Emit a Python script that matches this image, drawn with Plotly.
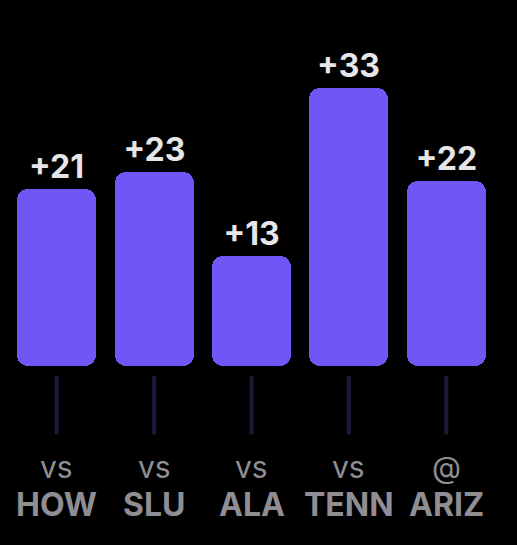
import plotly.graph_objects as go

venues = ["vs", "vs", "vs", "vs", "@"]
teams = ["HOW", "SLU", "ALA", "TENN", "ARIZ"]
margins = [21, 23, 13, 33, 22]

x = list(range(len(teams)))
labels = [f"+{m}" for m in margins]
# two overlapping pieces per bar so that both ends get rounded corners
upper_base = [m * 0.3 for m in margins]
upper_len = [m * 0.7 for m in margins]
lower_base = [m * 0.7 for m in margins]
lower_len = [-m * 0.7 for m in margins]

bar_color = "#7256f5"
fig = go.Figure()
fig.add_trace(go.Bar(
    x=x, y=lower_len, base=lower_base, width=0.81,
    marker=dict(color=bar_color, cornerradius=11, line=dict(width=0)),
    hoverinfo="skip",
))
fig.add_trace(go.Bar(
    x=x, y=upper_len, base=upper_base, width=0.81,
    marker=dict(color=bar_color, cornerradius=11, line=dict(width=0)),
    text=labels, textposition="outside", cliponaxis=False,
    textfont=dict(family="Inter", size=32, color="#e6e6e8", weight="bold"),
    hoverinfo="skip",
))

for i in x:
    fig.add_shape(type="line", xref="x", yref="y", x0=i, x1=i, y0=-1.2, y1=-8.1,
                  line=dict(color="#1e1a3a", width=4))
    fig.add_annotation(x=i, y=1 - 467 / 545, xref="x", yref="paper", text=venues[i],
                       showarrow=False, yanchor="middle",
                       font=dict(family="Inter", size=30, color="#8e8e93"))
    fig.add_annotation(x=i, y=1 - 504 / 545, xref="x", yref="paper", text=teams[i],
                       showarrow=False, yanchor="middle",
                       font=dict(family="Inter", size=32, color="#8e8e93", weight="bold"))

fig.update_layout(
    width=517, height=545,
    margin=dict(l=8, r=22, t=0, b=0),
    paper_bgcolor="#000000", plot_bgcolor="#000000",
    showlegend=False, barmode="overlay",
    xaxis=dict(range=[-0.5, 4.5], visible=False, fixedrange=True),
    yaxis=dict(range=[-21.23, 43.42], visible=False, fixedrange=True),
    bargap=0,
)

fig.write_html("out.html", config={"displayModeBar": False},
               post_script="document.body.style.margin='0';document.body.style.background='#000';")
